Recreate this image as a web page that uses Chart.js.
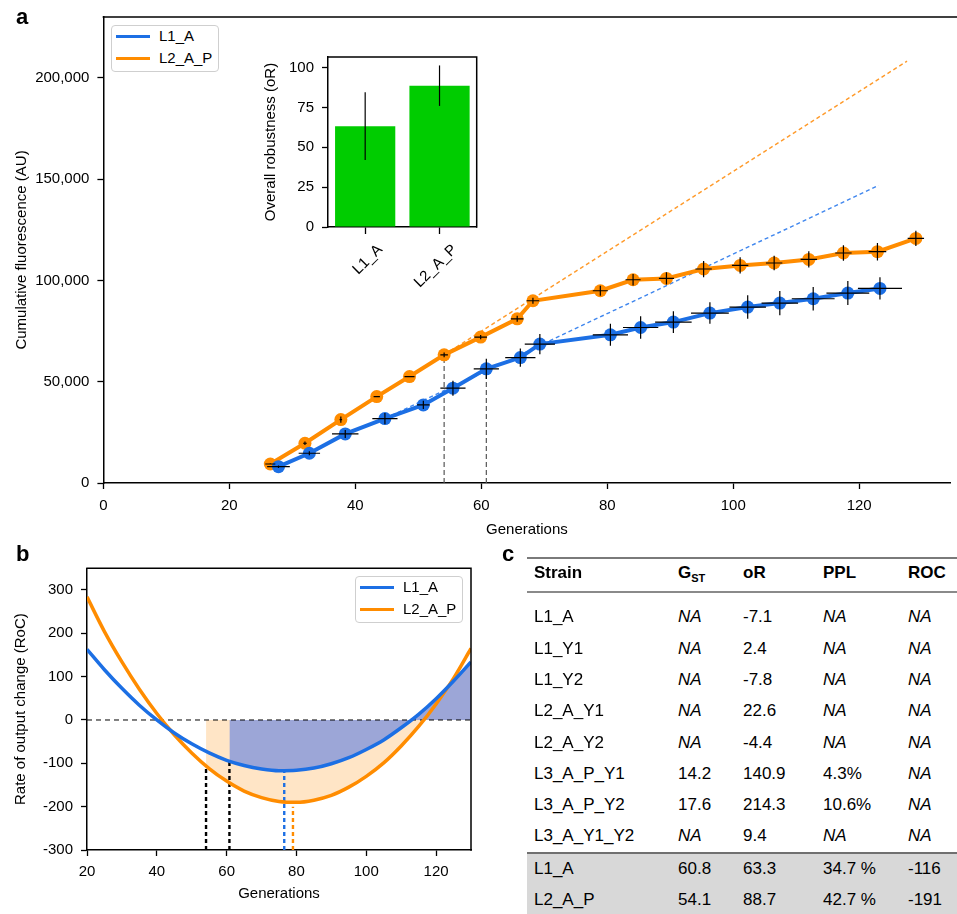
<!DOCTYPE html>
<html>
<head>
<meta charset="utf-8">
<script src="https://cdn.jsdelivr.net/npm/chart.js@4.4.1/dist/chart.umd.min.js"></script>
<style>
  body { margin: 0; background: #fff; font-family: "Liberation Sans", Arial, sans-serif; color: #000; }
  #page { position: relative; width: 957px; height: 914px; overflow: hidden; }
  canvas { position: absolute; }
  .tag { position: absolute; font-weight: bold; font-size: 22px; line-height: 22px; }
  .legend { position: absolute; width: 106px; height: 45px; background: #fff; border: 1px solid #cfcfcf; border-radius: 4px; font-size: 15px; }
  .legend .sw { position: absolute; left: 4px; width: 34px; height: 3px; }
  .legend .tx { position: absolute; left: 47px; line-height: 18px; }
  .cell { position: absolute; font-size: 17px; line-height: 20px; white-space: nowrap; }
  .hline { position: absolute; left: 527px; width: 430px; }
</style>
</head>
<body>
<div id="page">
  <canvas id="chartA" width="957" height="545" style="left:0;top:0"></canvas>
  <canvas id="chartInset" width="230" height="260" style="left:255px;top:40px"></canvas>
  <canvas id="chartB" width="500" height="369" style="left:0;top:545px"></canvas>

  <div class="tag" style="left:16px;top:6px">a</div>
  <div class="tag" style="left:16px;top:543px">b</div>
  <div class="tag" style="left:502px;top:543px">c</div>

  <div class="legend" id="legendA" style="left:111px;top:25px"></div>
  <div class="legend" id="legendB" style="left:355px;top:576px"></div>

  <div id="table"></div>
</div>

<script>
const FONT = '"Liberation Sans", Arial, sans-serif';
const BLUE = '#1c6fe4';
const ORANGE = '#ff8c00';

// ---- panel a: cumulative fluorescence ----
const genL1  = [27.8, 32.7, 38.4, 44.7, 50.8, 55.5, 60.8, 66.2, 69.3, 80.5, 85.3, 90.5, 96.3, 102.3, 107.4, 112.7, 118.2, 123.3];
const fluoL1 = [8060, 14680, 24220, 31780, 38550, 46800, 56340, 61920, 68550, 73140, 76750, 79420, 83860, 86830, 88810, 90930, 93750, 96020];
const genErrL1  = [1.8, 1.7, 2.1, 2.0, 1.0, 2.0, 2.0, 2.4, 2.4, 2.8, 2.8, 2.9, 3.0, 2.9, 2.9, 3.4, 3.4, 3.5];
const fluoErrL1 = [600, 1000, 2000, 2800, 2000, 3700, 5000, 4500, 5000, 5400, 5600, 5400, 5300, 5800, 6000, 5800, 5900, 5500];

const genL2  = [26.5, 32.0, 37.7, 43.4, 48.6, 54.1, 59.9, 65.7, 68.2, 78.9, 84.1, 89.4, 95.3, 101.1, 106.5, 112.0, 117.5, 122.9, 129.0];
const fluoL2 = [9390, 19620, 31280, 42650, 52530, 63260, 72010, 81050, 89940, 94890, 100320, 100960, 105610, 107390, 108580, 110360, 113520, 114160, 120730];
const genErrL2  = [0.8, 0.3, 0.2, 0.5, 0.8, 0.6, 1.0, 1.0, 1.0, 1.2, 1.2, 1.2, 1.3, 1.3, 1.3, 1.3, 1.3, 1.4, 1.3];
const fluoErrL2 = [300, 900, 1500, 300, 300, 1200, 1000, 1500, 1500, 2500, 2800, 3000, 4000, 4000, 3600, 4000, 3800, 4300, 3800];

const trendGenL1 = [44.7, 123.1];
const trendValL1 = [31780, 146900];
const trendGenL2 = [54.1, 127.6];
const trendValL2 = [63260, 208200];
const gstGen = [54.1, 60.8];
const gstVal = [63260, 56340];

const xTicksA = [0, 20, 40, 60, 80, 100, 120];
const yTicksA = [0, 50000, 100000, 150000, 200000];

// ---- inset: overall robustness ----
const strains = ['L1_A', 'L2_A_P'];
const robustness = [63.3, 88.7];
const robustLo = [42, 76];
const robustHi = [84.5, 101.4];
const yTicksInset = [0, 25, 50, 75, 100];

// ---- panel b: rate of output change ----
const rocGen = [20, 25, 30, 35, 40, 45, 50, 55, 60, 65, 70, 75, 80, 85, 90, 95, 100, 105, 110, 115, 120, 125, 130];
const rocL1  = [163, 116, 73, 34, 0, -30, -55, -76, -93, -105, -113, -117, -116, -111, -101, -87, -68, -46, -18, 13, 49, 90, 134];
const rocL2  = [284, 204, 134, 71, 15, -34, -76, -112, -141, -164, -179, -188, -190, -185, -174, -155, -130, -99, -60, -15, 37, 96, 165];

const shadeGenL1 = [60.8, 65, 70, 75, 80, 85, 90, 95, 100, 105, 110, 115, 120, 125, 130];
const shadeValL1 = [-95, -105, -113, -117, -116, -111, -101, -87, -68, -46, -18, 13, 49, 90, 134];
const shadeGenL2 = [54.1, 55, 60, 65, 70, 75, 80, 85, 90, 95, 100, 105, 110, 115, 116.5];
const shadeValL2 = [-106, -112, -141, -164, -179, -188, -190, -185, -174, -155, -130, -99, -60, -15, 0];

const markGen = [54.1, 60.8, 76.5, 79];
const markTop = [-106, -95, -117, -200];
const markColor = ['#000', '#000', BLUE, ORANGE];

const xTicksB = [20, 40, 60, 80, 100, 120];
const yTicksB = [-300, -200, -100, 0, 100, 200, 300];

// ---- panel c: table ----
const tableHead = ['Strain', 'G<sub style="font-size:11px">ST</sub>', 'oR', 'PPL', 'ROC'];
const tableRows = [
  ['L1_A', 'NA', '-7.1', 'NA', 'NA'],
  ['L1_Y1', 'NA', '2.4', 'NA', 'NA'],
  ['L1_Y2', 'NA', '-7.8', 'NA', 'NA'],
  ['L2_A_Y1', 'NA', '22.6', 'NA', 'NA'],
  ['L2_A_Y2', 'NA', '-4.4', 'NA', 'NA'],
  ['L3_A_P_Y1', '14.2', '140.9', '4.3%', 'NA'],
  ['L3_A_P_Y2', '17.6', '214.3', '10.6%', 'NA'],
  ['L3_A_Y1_Y2', 'NA', '9.4', 'NA', 'NA']
];
const summaryRows = [
  ['L1_A', '60.8', '63.3', '34.7 %', '-116'],
  ['L2_A_P', '54.1', '88.7', '42.7 %', '-191']
];

const pts = (xs, ys) => xs.map((x, i) => ({ x: x, y: ys[i] }));

function makeErrorBars(sets) {
  return {
    id: 'errorBars',
    afterDatasetsDraw(chart) {
      const { ctx, scales } = chart;
      ctx.save();
      ctx.strokeStyle = '#000';
      ctx.lineWidth = 1.2;
      sets.forEach(s => {
        s.x.forEach((xv, i) => {
          const px = scales.x.getPixelForValue(xv);
          ctx.beginPath();
          if (s.lo) {
            ctx.moveTo(px, scales.y.getPixelForValue(s.lo[i]));
            ctx.lineTo(px, scales.y.getPixelForValue(s.hi[i]));
          } else {
            const py = scales.y.getPixelForValue(s.y[i]);
            ctx.moveTo(scales.x.getPixelForValue(xv - s.xerr[i]), py);
            ctx.lineTo(scales.x.getPixelForValue(xv + s.xerr[i]), py);
            ctx.moveTo(px, scales.y.getPixelForValue(s.y[i] - s.yerr[i]));
            ctx.lineTo(px, scales.y.getPixelForValue(s.y[i] + s.yerr[i]));
          }
          ctx.stroke();
        });
      });
      ctx.restore();
    }
  };
}

// top spine (to canvas edge for panel a) and optional right spine
function makeFrame(right) {
  return {
    id: 'frame',
    afterDraw(chart) {
      const { ctx, chartArea: a } = chart;
      ctx.save();
      ctx.strokeStyle = '#000';
      ctx.lineWidth = 1.5;
      ctx.beginPath();
      ctx.moveTo(a.left - 0.75, a.top);
      ctx.lineTo(right ? a.right + 0.75 : chart.width, a.top);
      if (right) { ctx.moveTo(a.right, a.top); ctx.lineTo(a.right, a.bottom + 0.75); }
      ctx.stroke();
      ctx.restore();
    }
  };
}

function axis(opts) {
  return Object.assign({
    type: 'linear',
    grid: { display: true, drawOnChartArea: false, drawTicks: true, tickLength: 6, tickColor: '#000', tickWidth: 1.3 },
    border: { display: true, color: '#000', width: 1.5 },
  }, opts);
}
const tickFont = { family: FONT, size: 15 };
const titleFont = { family: FONT, size: 15 };

Chart.defaults.font.family = FONT;
Chart.defaults.color = '#000';

// panel a
new Chart(document.getElementById('chartA'), {
  type: 'line',
  data: {
    datasets: [
      { label: 'L1_A', data: pts(genL1, fluoL1), borderColor: BLUE, backgroundColor: BLUE, borderWidth: 4, pointRadius: 6.5, pointBorderWidth: 0, pointBackgroundColor: BLUE },
      { label: 'L2_A_P', data: pts(genL2, fluoL2), borderColor: ORANGE, backgroundColor: ORANGE, borderWidth: 4, pointRadius: 6.5, pointBorderWidth: 0, pointBackgroundColor: ORANGE },
      { data: pts(trendGenL1, trendValL1), borderColor: '#3f86ee', borderWidth: 1.4, borderDash: [4, 3], pointRadius: 0 },
      { data: pts(trendGenL2, trendValL2), borderColor: '#ff9a2a', borderWidth: 1.4, borderDash: [4, 3], pointRadius: 0 },
      { data: [{ x: gstGen[0], y: 0 }, { x: gstGen[0], y: gstVal[0] }], borderColor: '#555', borderWidth: 1.2, borderDash: [5, 3], pointRadius: 0 },
      { data: [{ x: gstGen[1], y: 0 }, { x: gstGen[1], y: gstVal[1] }], borderColor: '#555', borderWidth: 1.2, borderDash: [5, 3], pointRadius: 0 }
    ]
  },
  options: {
    responsive: false, animation: false, devicePixelRatio: 1,
    layout: { padding: { top: 16.7, right: 0, left: 0, bottom: 0 } },
    plugins: { legend: { display: false }, tooltip: { enabled: false } },
    scales: {
      x: axis({
        min: 0, max: 134.5,
        afterBuildTicks: s => { s.ticks = xTicksA.map(v => ({ value: v })); },
        afterFit: s => { s.height = 62; },
        ticks: { font: tickFont, padding: 8, maxRotation: 0 },
        title: { display: true, text: 'Generations', font: titleFont, padding: { top: 0, bottom: 6 } }
      }),
      y: axis({
        min: 0, max: 230000,
        afterBuildTicks: s => { s.ticks = yTicksA.map(v => ({ value: v })); },
        afterFit: s => { s.width = 103.4; },
        ticks: { font: tickFont, padding: 8, callback: v => v.toLocaleString('en-US') },
        title: { display: true, text: 'Cumulative fluorescence (AU)', font: titleFont, padding: { top: 12.5, bottom: 0 } }
      })
    }
  },
  plugins: [
    makeFrame(false),
    makeErrorBars([
      { x: genL2, y: fluoL2, xerr: genErrL2, yerr: fluoErrL2 },
      { x: genL1, y: fluoL1, xerr: genErrL1, yerr: fluoErrL1 }
    ])
  ]
});

// inset
new Chart(document.getElementById('chartInset'), {
  type: 'bar',
  data: {
    labels: strains,
    datasets: [{ data: robustness, backgroundColor: '#00cc00', borderWidth: 0, barPercentage: 0.81, categoryPercentage: 1.0 }]
  },
  options: {
    responsive: false, animation: false, devicePixelRatio: 1,
    layout: { padding: { top: 7.7, right: 8.3, left: 0, bottom: 0 } },
    plugins: { legend: { display: false }, tooltip: { enabled: false } },
    scales: {
      x: {
        type: 'category',
        grid: { display: true, offset: false, drawOnChartArea: false, drawTicks: true, tickLength: 7, tickColor: '#000', tickWidth: 1.3 },
        border: { display: true, color: '#000', width: 1.5 },
        afterFit: s => { s.height = 73; },
        ticks: { font: tickFont, padding: 7, minRotation: 45, maxRotation: 45, labelOffset: 15 }
      },
      y: axis({
        min: 0, max: 106.7,
        afterBuildTicks: s => { s.ticks = yTicksInset.map(v => ({ value: v })); },
        afterFit: s => { s.width = 73; },
        ticks: { font: tickFont, padding: 8 },
        title: { display: true, text: 'Overall robustness (oR)', font: titleFont, padding: { top: 6.7, bottom: 0 } }
      })
    }
  },
  plugins: [makeFrame(true), makeErrorBars([{ x: [0, 1], lo: robustLo, hi: robustHi }])]
});

// panel b
const markSets = markGen.map((g, i) => ({
  data: [{ x: g, y: -300 }, { x: g, y: markTop[i] }],
  borderColor: markColor[i], borderWidth: 2.4, borderDash: [4, 3], pointRadius: 0
}));
new Chart(document.getElementById('chartB'), {
  type: 'line',
  data: {
    datasets: [
      { label: 'L1_A', data: pts(rocGen, rocL1), borderColor: BLUE, borderWidth: 3.5, pointRadius: 0, cubicInterpolationMode: 'monotone' },
      { label: 'L2_A_P', data: pts(rocGen, rocL2), borderColor: ORANGE, borderWidth: 3.5, pointRadius: 0, cubicInterpolationMode: 'monotone' },
      ...markSets,
      { data: [{ x: 20, y: 0 }, { x: 130, y: 0 }], borderColor: '#000', borderWidth: 1, borderDash: [5, 4], pointRadius: 0 },
      { data: pts(shadeGenL1, shadeValL1), fill: 'origin', backgroundColor: '#9ca6d7', borderWidth: 0, pointRadius: 0, cubicInterpolationMode: 'monotone' },
      { data: pts(shadeGenL2, shadeValL2), fill: 'origin', backgroundColor: '#ffe5c6', borderWidth: 0, pointRadius: 0, cubicInterpolationMode: 'monotone' }
    ]
  },
  options: {
    responsive: false, animation: false, devicePixelRatio: 1,
    layout: { padding: { top: 23.3, right: 29, left: 0, bottom: 0 } },
    plugins: { legend: { display: false }, tooltip: { enabled: false } },
    scales: {
      x: axis({
        min: 20, max: 130,
        afterBuildTicks: s => { s.ticks = xTicksB.map(v => ({ value: v })); },
        afterFit: s => { s.height = 64; },
        ticks: { font: tickFont, padding: 7, maxRotation: 0 },
        title: { display: true, text: 'Generations', font: titleFont, padding: { top: 0, bottom: 11 } }
      }),
      y: axis({
        min: -300, max: 350,
        afterBuildTicks: s => { s.ticks = yTicksB.map(v => ({ value: v })); },
        afterFit: s => { s.width = 87; },
        ticks: { font: tickFont, padding: 8, callback: v => String(v) },
        title: { display: true, text: 'Rate of output change (RoC)', font: titleFont, padding: { top: 11.7, bottom: 0 } }
      })
    }
  },
  plugins: [makeFrame(true)]
});

// legends
function buildLegend(id) {
  const el = document.getElementById(id);
  [['L1_A', BLUE, 10], ['L2_A_P', ORANGE, 32]].forEach(([name, color, cy]) => {
    const sw = document.createElement('div');
    sw.className = 'sw';
    sw.style.top = (cy - 1.5) + 'px';
    sw.style.background = color;
    el.appendChild(sw);
    const tx = document.createElement('div');
    tx.className = 'tx';
    tx.style.top = (cy - 9) + 'px';
    tx.textContent = name;
    el.appendChild(tx);
  });
}
buildLegend('legendA');
buildLegend('legendB');

// table
const colX = [534, 678, 743, 823, 908];
const table = document.getElementById('table');
function addLine(top, h, color) {
  const d = document.createElement('div');
  d.className = 'hline';
  d.style.top = top + 'px';
  d.style.height = h + 'px';
  d.style.background = color;
  table.appendChild(d);
}
function addRow(cells, cy, bold) {
  cells.forEach((c, i) => {
    const d = document.createElement('div');
    d.className = 'cell';
    d.style.left = colX[i] + 'px';
    d.style.top = (cy - 10) + 'px';
    if (bold) d.style.fontWeight = 'bold';
    if (c === 'NA') d.style.fontStyle = 'italic';
    d.innerHTML = c;
    table.appendChild(d);
  });
}
addLine(852.7, 62, '#d8d8d8');
addLine(557, 2, '#7a7a7a');
addLine(590.5, 2.5, '#8a8a8a');
addLine(851.7, 2, '#707070');
addRow(tableHead, 573.3, true);
tableRows.forEach((r, i) => addRow(r, 617.3 + i * 31.3, false));
summaryRows.forEach((r, i) => addRow(r, 868.7 + i * 31.3, false));
</script>
</body>
</html>
